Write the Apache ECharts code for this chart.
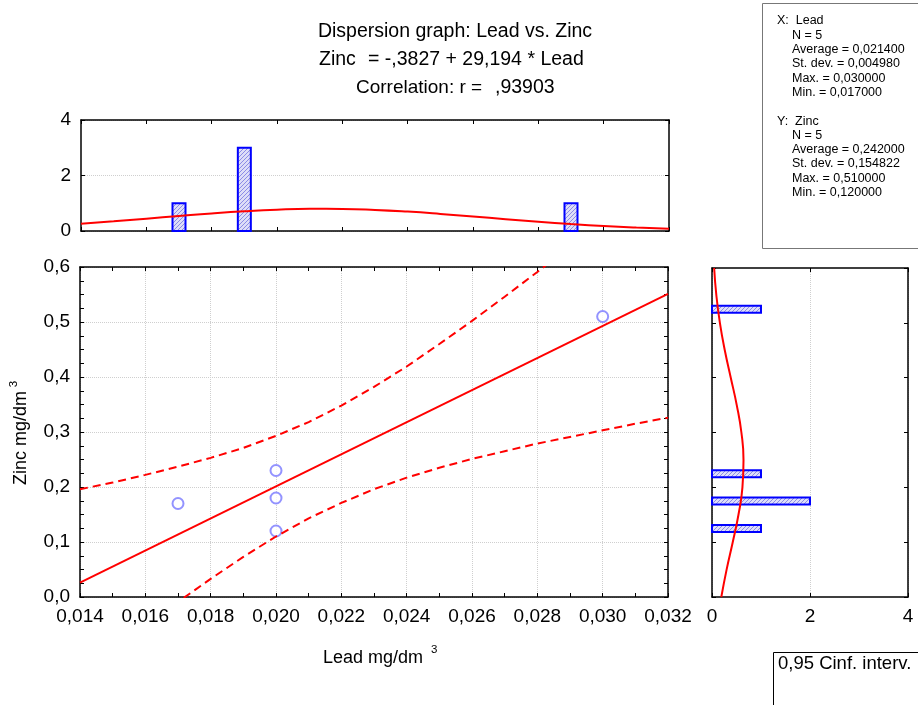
<!DOCTYPE html>
<html>
<head>
<meta charset="UTF-8">
<title>Dispersion graph: Lead vs. Zinc</title>
<script src="https://cdn.jsdelivr.net/npm/echarts@6/dist/echarts.min.js"></script>
<style>
    html, body { margin: 0; padding: 0; background: #fff; }
    #chart { width: 918px; height: 705px; }
</style>
</head>
<body>
<div id="chart"></div>
<script>
// data
var leadVals = [0.017, 0.020, 0.020, 0.020, 0.030];
var zincVals = [0.17, 0.23, 0.18, 0.12, 0.51];

// regression line ends and 0.95 confidence band
var fitLead = [0.014, 0.032];
var fitZinc = [0.026, 0.551];
var bandLead = [0.014, 0.015, 0.016, 0.017, 0.018, 0.019, 0.020, 0.021, 0.022, 0.023,
                0.024, 0.025, 0.026, 0.027, 0.028, 0.029, 0.030, 0.031, 0.032];
var bandUpper = [0.196, 0.208, 0.222, 0.237, 0.253, 0.271, 0.293, 0.318, 0.348, 0.382,
                 0.419, 0.460, 0.502, 0.546, 0.591, 0.637, 0.684, 0.731, 0.778];
var bandLower = [-0.144, -0.098, -0.053, -0.009, 0.033, 0.073, 0.110, 0.143, 0.171, 0.196,
                 0.217, 0.235, 0.251, 0.265, 0.279, 0.291, 0.303, 0.315, 0.326];

// histogram of Lead (top) with its normal curve
var leadBinMid = [0.017, 0.019, 0.029];
var leadBinCount = [1, 3, 1];
var leadCurveY = [0.265, 0.351, 0.445, 0.542, 0.635, 0.713, 0.770, 0.798, 0.795, 0.761,
                  0.699, 0.617, 0.523, 0.426, 0.333, 0.250, 0.180, 0.125, 0.083];

// histogram of Zinc (right) with its normal curve
var zincBinMid = [0.125, 0.175, 0.225, 0.525];
var zincBinCount = [1, 2, 1, 1];
var zincCurveZ = [0, 0.05, 0.10, 0.15, 0.20, 0.25, 0.30, 0.35, 0.40, 0.45, 0.50, 0.55, 0.60];
var zincCurveN = [0.190, 0.298, 0.423, 0.540, 0.621, 0.643, 0.600, 0.505, 0.383, 0.261, 0.161, 0.089, 0.044];

// tick labels
var leadTickLabels = ['0,014', '0,016', '0,018', '0,020', '0,022', '0,024', '0,026', '0,028', '0,030', '0,032'];
var zincTickLabels = ['0,0', '0,1', '0,2', '0,3', '0,4', '0,5', '0,6'];
var countTickLabels = ['0', '2', '4'];

var statLines = [
    'X:  Lead', '     N = 5', '     Average = 0,021400', '     St. dev. = 0,004980',
    '     Max. = 0,030000', '     Min. = 0,017000', '',
    'Y:  Zinc', '     N = 5', '     Average = 0,242000', '     St. dev. = 0,154822',
    '     Max. = 0,510000', '     Min. = 0,120000'
];

var FONT = '"Liberation Sans", Arial, sans-serif';
var gridLine = { show: true, lineStyle: { color: '#cfcfcf', type: 'dotted', width: 1 } };

// hatched fill for the histogram bars
var hatch = document.createElement('canvas');
hatch.width = 4; hatch.height = 4;
var hc = hatch.getContext('2d');
hc.fillStyle = '#dedef8';
hc.fillRect(0, 0, 4, 4);
hc.strokeStyle = '#8c8ce6';
hc.lineWidth = 1;
hc.beginPath();
hc.moveTo(0, 4); hc.lineTo(4, 0);
hc.moveTo(-1, 1); hc.lineTo(1, -1);
hc.moveTo(3, 5); hc.lineTo(5, 3);
hc.stroke();
var barFill = { image: hatch, repeat: 'repeat' };

function border(gridIndex, position, min, max, interval, minor) {
    return {
        type: 'value', gridIndex: gridIndex, position: position,
        min: min, max: max, interval: interval,
        axisLine: { show: true, onZero: false, lineStyle: { color: '#000', width: 1.5 } },
        axisTick: { show: true, inside: true, length: 4, lineStyle: { color: '#000' } },
        minorTick: minor ? { show: true, splitNumber: minor, length: 4, lineStyle: { color: '#000' } } : { show: false },
        axisLabel: { show: false },
        splitLine: { show: false }
    };
}

function labelStyle(list) {
    return {
        show: true, color: '#000', fontFamily: FONT, fontSize: 19, margin: 10,
        formatter: function (v, i) { return list[i]; }
    };
}

var xAxes = [
    border(0, 'bottom', 0.014, 0.032, 0.002),
    border(0, 'top', 0.014, 0.032, 0.002),
    border(1, 'bottom', 0.014, 0.032, 0.002, 2),
    border(1, 'top', 0.014, 0.032, 0.002, 2),
    border(2, 'bottom', 0, 4, 2),
    border(2, 'top', 0, 4, 2)
];
xAxes[2].axisLabel = labelStyle(leadTickLabels);
xAxes[2].splitLine = gridLine;
xAxes[4].axisLabel = labelStyle(countTickLabels);
xAxes[4].splitLine = gridLine;

var yAxes = [
    border(0, 'left', 0, 4, 2),
    border(0, 'right', 0, 4, 2),
    border(1, 'left', 0, 0.6, 0.1, 4),
    border(1, 'right', 0, 0.6, 0.1, 4),
    border(2, 'left', 0, 0.6, 0.1),
    border(2, 'right', 0, 0.6, 0.1)
];
yAxes[0].axisLabel = labelStyle(countTickLabels);
yAxes[0].splitLine = gridLine;
yAxes[2].axisLabel = labelStyle(zincTickLabels);
yAxes[2].splitLine = gridLine;

var chart = echarts.init(document.getElementById('chart'));

var graphics = [];
function txt(x, y, s, size, align) {
    graphics.push({
        type: 'text', x: x, y: y,
        style: { text: s, font: size + 'px ' + FONT, fill: '#000', align: align || 'left', verticalAlign: 'middle' }
    });
}
txt(455, 32, 'Dispersion graph: Lead vs. Zinc', 19.5, 'center');
txt(319, 60, 'Zinc', 19.5);
txt(368, 60, '= -,3827 + 29,194 * Lead', 19.5);
txt(356, 88, 'Correlation: r =', 19);
txt(495, 88, ',93903', 19.5);

// statistics box
graphics.push({ type: 'rect', shape: { x: 762.5, y: 3.5, width: 180, height: 245 },
    style: { fill: '#fff', stroke: '#777', lineWidth: 1 } });
statLines.forEach(function (s, i) {
    if (!s) return;
    txt(s.charAt(0) === ' ' ? 792 : 777, 21 + i * 14.3, s.replace(/^ +/, ''), 12.5);
});

// confidence legend box
graphics.push({ type: 'rect', shape: { x: 773.5, y: 652.5, width: 170, height: 80 },
    style: { fill: '#fff', stroke: '#000', lineWidth: 1 } });
txt(778, 664, '0,95 Cinf. interv.', 18.5);

// axis names
txt(373, 658, 'Lead mg/dm', 18, 'center');
txt(431, 650, '3', 11.5);
graphics.push({
    type: 'text', x: 21, y: 438, rotation: Math.PI / 2,
    style: { text: 'Zinc mg/dm', font: '18px ' + FONT, fill: '#000', align: 'center', verticalAlign: 'middle' }
});
graphics.push({
    type: 'text', x: 14, y: 384, rotation: Math.PI / 2,
    style: { text: '3', font: '11.5px ' + FONT, fill: '#000', align: 'center', verticalAlign: 'middle' }
});

chart.setOption({
    animation: false,
    backgroundColor: '#fff',
    grid: [
        { left: 81, top: 120, width: 588, height: 111, outerBoundsMode: 'none' },
        { left: 80, top: 267, width: 588, height: 330, outerBoundsMode: 'none' },
        { left: 712, top: 268, width: 196, height: 329, outerBoundsMode: 'none' }
    ],
    xAxis: xAxes,
    yAxis: yAxes,
    graphic: graphics,
    series: [
        {
            type: 'custom', xAxisIndex: 0, yAxisIndex: 0,
            data: leadBinMid.map(function (m, i) { return [m, leadBinCount[i]]; }),
            encode: { x: 0, y: 1 },
            renderItem: function (params, api) {
                var top = api.coord([api.value(0), api.value(1)]);
                var base = api.coord([api.value(0), 0]);
                return { type: 'rect',
                    shape: { x: top[0] - 6.5, y: top[1], width: 13, height: base[1] - top[1] },
                    style: { fill: barFill, stroke: '#0000ff', lineWidth: 2 } };
            }
        },
        {
            type: 'line', xAxisIndex: 0, yAxisIndex: 0, smooth: true, symbol: 'none',
            data: bandLead.map(function (x, i) { return [x, leadCurveY[i]]; }),
            lineStyle: { color: '#ff0000', width: 2 }
        },
        {
            type: 'custom', xAxisIndex: 4, yAxisIndex: 4,
            data: zincBinMid.map(function (m, i) { return [zincBinCount[i], m]; }),
            encode: { x: 0, y: 1 },
            renderItem: function (params, api) {
                var end = api.coord([api.value(0), api.value(1)]);
                var base = api.coord([0, api.value(1)]);
                return { type: 'rect',
                    shape: { x: base[0], y: end[1] - 3.5, width: end[0] - base[0], height: 7 },
                    style: { fill: barFill, stroke: '#0000ff', lineWidth: 2 } };
            }
        },
        {
            type: 'line', xAxisIndex: 4, yAxisIndex: 4, smooth: true, symbol: 'none',
            data: zincCurveZ.map(function (z, i) { return [zincCurveN[i], z]; }),
            lineStyle: { color: '#ff0000', width: 2 }
        },
        {
            type: 'line', xAxisIndex: 2, yAxisIndex: 2, symbol: 'none',
            data: bandLead.map(function (x, i) { return [x, bandUpper[i]]; }),
            lineStyle: { color: '#ff0000', width: 2, type: [8, 5] }
        },
        {
            type: 'line', xAxisIndex: 2, yAxisIndex: 2, symbol: 'none',
            data: bandLead.map(function (x, i) { return [x, bandLower[i]]; }),
            lineStyle: { color: '#ff0000', width: 2, type: [8, 5] }
        },
        {
            type: 'line', xAxisIndex: 2, yAxisIndex: 2, symbol: 'none',
            data: fitLead.map(function (x, i) { return [x, fitZinc[i]]; }),
            lineStyle: { color: '#ff0000', width: 2 }
        },
        {
            type: 'scatter', xAxisIndex: 2, yAxisIndex: 2,
            symbol: 'emptyCircle', symbolSize: 11,
            data: leadVals.map(function (x, i) { return [x, zincVals[i]]; }),
            itemStyle: { color: '#7878ff', borderWidth: 1.2 }
        }
    ]
});
</script>
</body>
</html>
